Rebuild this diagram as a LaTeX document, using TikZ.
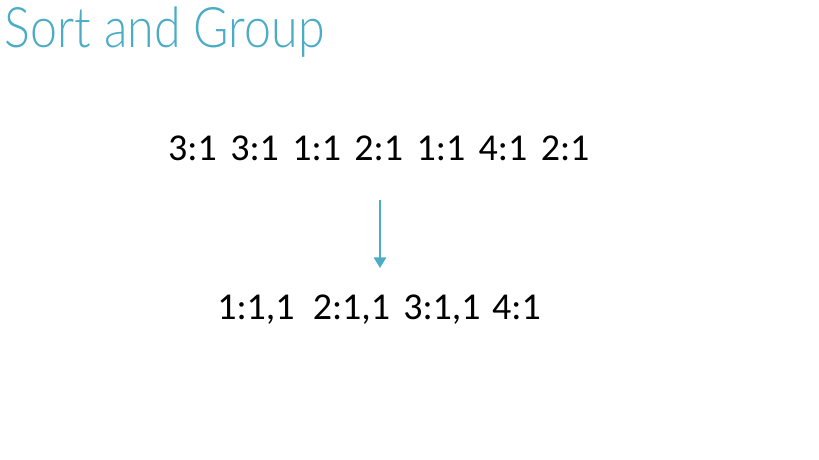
\documentclass[tikz,border=0pt]{standalone}
\usepackage{fontspec}
\setmainfont{Carlito}
\newfontfamily\titlefont[FakeStretch=0.865]{Lato Light}
\usetikzlibrary{arrows.meta}
\definecolor{accent}{HTML}{4BACC6}
\tikzset{
  item/.style={anchor=base, inner sep=0pt, font=\fontsize{10.8}{13}\selectfont},
  link/.style={draw=accent, line width=0.5pt, -{Triangle[length=3pt, width=3.5pt]}}
}
\begin{document}
\begin{tikzpicture}
    \useasboundingbox (0,0) rectangle (8.19,4.60);

    % Titel
    \node[anchor=base west, inner sep=0pt, text=accent, font=\titlefont\fontsize{15.9}{19}\selectfont] (title) at (0.04, 4.12) {Sort and Group};

    % Eingabe
    \foreach \txt [count=\i] in {3:1, 3:1, 1:1, 2:1, 1:1, 4:1, 2:1} {
      \node[item] (in\i) at ({1.925 + 0.621*(\i-1)}, 2.99) {\txt};
    }

    % Ausgabe
    \node[item] (out1) at (2.56, 1.40) {1:1,1};
    \node[item] (out2) at (3.515, 1.40) {2:1,1};
    \node[item] (out3) at (4.42, 1.40) {3:1,1};
    \node[item] (out4) at (5.165, 1.40) {4:1};

    % Pfeil
    \coordinate (from) at (3.80, 2.60);
    \coordinate (to) at (3.80, 1.92);
    \draw[link] (from) -- (to);
  \end{tikzpicture}
\end{document}
